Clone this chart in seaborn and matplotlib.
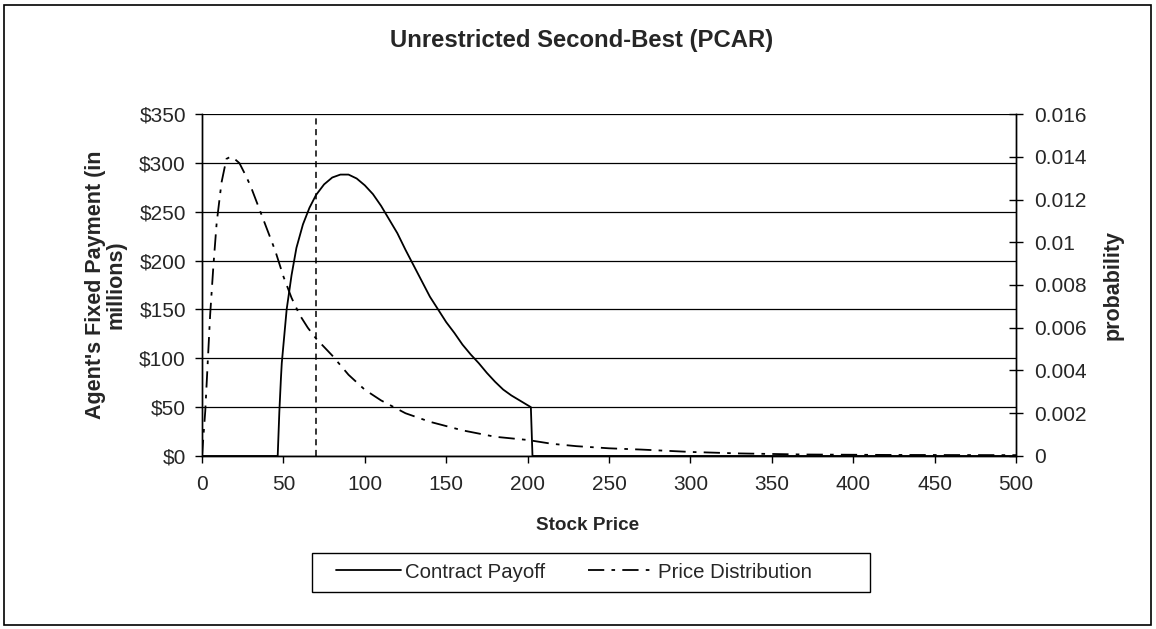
import matplotlib
matplotlib.use("Agg")
import matplotlib.pyplot as plt
import seaborn as sns
import pandas as pd
from matplotlib.patches import Rectangle
from matplotlib.ticker import FuncFormatter, MultipleLocator

# contract payoff (left axis, $ millions)
payoff_price = [0, 46.5, 47.5, 48.5, 49, 52, 55, 58, 62, 66, 70, 75, 80, 85, 90,
                95, 100, 105, 110, 115, 120, 125, 130, 135, 140, 145, 150, 155,
                160, 165, 170, 175, 180, 185, 190, 195, 202, 203, 500]
payoff_value = [0, 0, 45, 80, 95, 150, 185, 213, 237, 254, 267, 278, 285, 288, 288,
                284, 277, 268, 256, 242, 228, 211, 195, 179, 163, 150, 137, 126,
                114, 104, 95, 85, 76, 68, 62, 57, 50, 0, 0]

# price distribution (right axis, probability)
dist_price = [0, 2, 5, 7, 9, 12, 15, 17.5, 20, 23, 27, 30, 34, 40, 45, 50, 55, 60,
              65, 70, 80, 90, 100, 110, 125, 140, 160, 180, 200, 215, 230, 250,
              270, 300, 330, 370, 420, 500]
dist_prob = [0, 0.0021, 0.0066, 0.0089, 0.0109, 0.0128, 0.0139, 0.0140, 0.0139,
             0.0137, 0.0131, 0.0126, 0.0118, 0.0106, 0.0096, 0.0084, 0.0074, 0.0066,
             0.0060, 0.0055, 0.0047, 0.0038, 0.0031, 0.0026, 0.0020, 0.0016, 0.0012,
             0.0009, 0.00075, 0.00057, 0.00046, 0.00036, 0.0003, 0.00019, 0.00012,
             0.00007, 0.00005, 0.00004]

strike_price = 70

payoff_df = pd.DataFrame({"price": payoff_price, "value": payoff_value})
dist_df = pd.DataFrame({"price": dist_price, "prob": dist_prob})

sns.set_style("white")
plt.rcParams["font.family"] = ["Liberation Sans", "DejaVu Sans"]

W, H = 1156, 629
fig = plt.figure(figsize=(W / 100, H / 100), dpi=100)
ax = fig.add_axes([202 / W, 1 - 456 / H, (1016 - 202) / W, (456 - 114) / H])
ax2 = ax.twinx()

sns.lineplot(data=payoff_df, x="price", y="value", ax=ax, color="black",
             linewidth=1.3, label="Contract Payoff", legend=False)
ax.axvline(strike_price, color="black", linewidth=1.1, linestyle=(0, (4, 3)))
sns.lineplot(data=dist_df, x="price", y="prob", ax=ax2, color="black",
             linewidth=1.3, linestyle=(0, (9, 4, 2, 4)),
             label="Price Distribution", legend=False)

ax.set_xlim(0, 500)
ax.set_ylim(0, 350)
ax2.set_ylim(0, 0.016)
ax.xaxis.set_major_locator(MultipleLocator(50))
ax.yaxis.set_major_locator(MultipleLocator(50))
ax2.yaxis.set_major_locator(MultipleLocator(0.002))
ax.yaxis.set_major_formatter(FuncFormatter(lambda v, p: f"${v:.0f}"))
ax2.yaxis.set_major_formatter(FuncFormatter(lambda v, p: f"{v:g}"))

ax.grid(axis="y", color="black", linewidth=0.9)
ax.grid(axis="x", visible=False)
ax.set_axisbelow(True)
for a in (ax, ax2):
    a.spines["top"].set_visible(False)
    for s in ("left", "right", "bottom"):
        a.spines[s].set_color("black")
        a.spines[s].set_linewidth(1.0)

ax.tick_params(axis="x", labelsize=15, length=5, width=1, direction="out",
               color="black", bottom=True, pad=8.5)
ax.tick_params(axis="y", labelsize=15, length=5, width=1, direction="out",
               color="black", left=True, pad=6.5)
ax2.tick_params(axis="y", labelsize=15, length=9.5, width=1, direction="inout",
                color="black", right=True, pad=8)

ax.set_xlabel("")
ax.set_ylabel("Agent's Fixed Payment (in\nmillions)", fontsize=15.5,
              fontweight="bold", labelpad=9.5, linespacing=0.95)
ax2.set_ylabel("probability", fontsize=15.5, fontweight="bold", labelpad=12)

fig.text(582 / W, 1 - 41 / H, "Unrestricted Second-Best (PCAR)", fontsize=17.2,
         fontweight="bold", ha="center", va="center")
fig.text(588 / W, 1 - 525 / H, "Stock Price", fontsize=13.6, fontweight="bold",
         ha="center", va="center")

h1, l1 = ax.get_legend_handles_labels()
h2, l2 = ax2.get_legend_handles_labels()
leg = fig.legend(h1 + h2, l1 + l2, loc="center left", ncol=2,
                 bbox_to_anchor=(336 / W, 1 - 572 / H), fontsize=14.7,
                 frameon=False, borderpad=0, borderaxespad=0, handlelength=3.2,
                 handletextpad=0.2, columnspacing=2.1)

# legend box and outer chart border
fig.patches.append(Rectangle((312 / W, 1 - 592 / H), (870 - 312) / W, 39 / H,
                             transform=fig.transFigure, fill=False,
                             edgecolor="black", linewidth=1.0))
fig.patches.append(Rectangle((4 / W, 4 / H), 1 - 9 / W, 1 - 9 / H,
                             transform=fig.transFigure, fill=False,
                             edgecolor="black", linewidth=1.2))

fig.savefig("out.png", dpi=100)
